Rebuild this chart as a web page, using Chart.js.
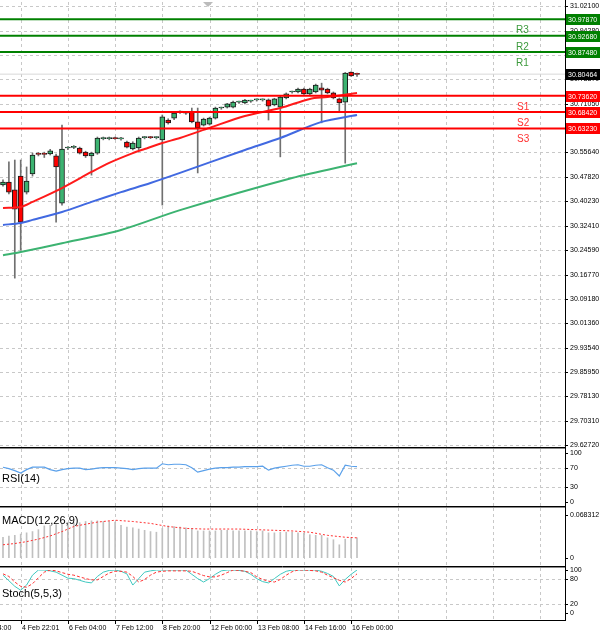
<!DOCTYPE html>
<html><head><meta charset="utf-8">
<script src="https://cdn.jsdelivr.net/npm/chart.js@4"></script>
<style>
body{margin:0;background:#fff;width:600px;height:635px;position:relative;overflow:hidden;font-family:"Liberation Sans",Arial,sans-serif}
canvas{position:absolute;left:0}
</style></head><body>
<canvas id="cMain" style="top:0px" width="600" height="447"></canvas>
<canvas id="cRsi" style="top:447px" width="600" height="59"></canvas>
<canvas id="cMacd" style="top:506px" width="600" height="60"></canvas>
<canvas id="cSto" style="top:566px" width="600" height="69"></canvas>
<script>
// ---- data ----
const opens  =[30.453,30.462,30.437,30.481,30.430,30.488,30.551,30.552,30.551,30.545,30.395,30.570,30.572,30.570,30.557,30.545,30.554,30.600,30.600,30.601,30.599,30.589,30.567,30.570,30.603,30.604,30.603,30.596,30.659,30.665,30.684,30.681,30.684,30.653,30.643,30.646,30.665,30.697,30.700,30.700,30.716,30.713,30.719,30.723,30.723,30.723,30.707,30.700,30.729,30.748,30.748,30.757,30.742,30.748,30.761,30.757,30.745,30.726,30.716,30.811,30.805];
const highs  =[30.469,30.526,30.532,30.532,30.510,30.554,30.556,30.557,30.566,30.551,30.643,30.575,30.578,30.573,30.560,30.557,30.605,30.605,30.605,30.605,30.604,30.592,30.590,30.605,30.607,30.607,30.606,30.675,30.663,30.684,30.688,30.685,30.697,30.697,30.665,30.668,30.700,30.700,30.712,30.719,30.719,30.725,30.722,30.726,30.726,30.726,30.728,30.735,30.745,30.751,30.760,30.760,30.760,30.773,30.776,30.760,30.748,30.729,30.810,30.812,30.808];
const lows   =[30.449,30.424,30.157,30.246,30.424,30.481,30.545,30.540,30.548,30.335,30.389,30.565,30.568,30.551,30.540,30.484,30.550,30.596,30.596,30.597,30.595,30.570,30.564,30.565,30.599,30.600,30.599,30.389,30.646,30.660,30.680,30.677,30.650,30.491,30.640,30.643,30.662,30.693,30.697,30.697,30.712,30.710,30.715,30.719,30.719,30.659,30.704,30.542,30.726,30.744,30.745,30.740,30.739,30.745,30.650,30.742,30.726,30.684,30.522,30.797,30.797];
const closes =[30.462,30.430,30.376,30.335,30.465,30.548,30.550,30.550,30.561,30.510,30.567,30.571,30.574,30.554,30.545,30.554,30.602,30.600,30.601,30.600,30.600,30.573,30.586,30.602,30.604,30.603,30.605,30.669,30.650,30.681,30.684,30.682,30.653,30.634,30.662,30.665,30.697,30.698,30.710,30.716,30.717,30.722,30.720,30.723,30.724,30.703,30.726,30.732,30.742,30.749,30.757,30.742,30.757,30.770,30.754,30.745,30.729,30.713,30.808,30.799,30.804];
const maIdx  =[0,3,5,10,15,18,22,24,27,30,35,41,47,52,55,60];
const maRed  =[30.380,30.383,30.399,30.443,30.494,30.523,30.554,30.567,30.586,30.602,30.634,30.672,30.697,30.726,30.732,30.745];
const blueIdx=[0,3,5,10,15,20,25,30,41,47,54,60];
const maBlue =[30.326,30.332,30.342,30.367,30.399,30.430,30.459,30.491,30.564,30.602,30.653,30.675];
const greenIdx=[0,3,10,20,30,49,60];
const maGreen=[30.230,30.240,30.268,30.310,30.373,30.475,30.522];
const levelNames=["R3","R2","R1","S1","S2","S3"];
const levelValues=[30.9787,30.9268,30.8748,30.7362,30.6842,30.6323];
const currentPrice=30.80464;
const priceTicks=[31.02100,30.94280,30.86650,30.78870,30.71050,30.63230,30.55640,30.47820,30.40230,30.32410,30.24590,30.16770,30.09180,30.01360,29.93540,29.85950,29.78130,29.70310,29.62720];
const rsi=[71,68,64,59,66,71,71,71,66,63,66,68,69,69,66,67,69,70,70,70,69,68,66,68,69,69,69,78,76,77,77,76,70,61,64,67,69,70,70,71,71,72,72,72,73,65,69,71,73,75,76,73,73,75,76,70,65,53,75,73,72];
const macdHist=[.033,.035,.036,.038,.040,.042,.045,.051,.052,.053,.055,.056,.056,.056,.058,.059,.059,.058,.058,.057,.052,.049,.048,.046,.044,.042,.041,.047,.051,.050,.049,.048,.047,.043,.043,.043,.043,.044,.044,.043,.043,.043,.043,.042,.043,.040,.040,.041,.041,.041,.040,.039,.037,.036,.036,.032,.029,.021,.030,.032,.032];
const macdSigIdx=[0,2,4,6,8,10,12,13,16,19,22,25,28,31,34,37,40,43,46,49,52,55,58,60];
const macdSig=[.021,.023,.026,.030,.035,.042,.050,.052,.057,.060,.058,.055,.050,.047,.046,.046,.046,.045,.044,.043,.041,.036,.033,.032];
const stochK=[88,75,62,53,65,88,100,100,98,95,88,81,80,76,72,70,85,95,99,100,97,91,65,80,95,98,100,100,100,100,100,100,90,80,72,80,90,98,100,100,99,97,90,80,73,70,80,90,97,100,100,100,100,100,97,92,85,63,78,90,100];
const stochD=[91,85,72,62,60,68,82,95,100,98,94,90,88,84,80,77,77,85,93,97,97,95,85,72,78,88,95,97,98,98,98,98,97,92,87,84,84,88,94,100,99,97,94,84,78,74,72,78,88,96,100,100,99,98,95,88,82,76,72,80,91];
const timeLabels=["3 Feb 14:00","4 Feb 22:01","6 Feb 04:00","7 Feb 12:00","8 Feb 20:00","12 Feb 00:00","13 Feb 08:00","14 Feb 16:00","16 Feb 00:00"];
const timeLabelIdx=[-5,3,11,19,27,35,43,51,59];

// ---- common ----
const XMIN=-0.508, XMAX=95.25, AXW=35;
const gridIdx=[]; for(let k=-1;k<12;k++) gridIdx.push(3+8*k);
const FONT='"Liberation Sans", Arial, sans-serif';
const GREEN='#008000', RED='#ff0000';
Chart.defaults.animation=false;
Chart.defaults.plugins.legend.display=false;
Chart.defaults.plugins.tooltip.enabled=false;
Chart.defaults.devicePixelRatio=1;
Chart.defaults.responsive=false;
const AX={};
function xScale(){return {type:'linear',min:XMIN,max:XMAX,offset:false,display:false};}
function yScale(min,max){return {type:'linear',position:'right',min,max,
  afterFit:s=>{s.width=AXW;},border:{display:false},grid:{display:false},ticks:{display:false}};}
const axisPlugin={id:'axisPlugin',
  beforeDatasetsDraw(ch){const c=ch.ctx,a=ch.chartArea,x=ch.scales.x,y=ch.scales.y,L=AX[ch.canvas.id];c.save();
    c.strokeStyle='#c8c8c8';c.lineWidth=1;c.setLineDash([3,3]);
    const gb=L.gridBottom!==undefined?L.gridBottom:ch.height;
    gridIdx.forEach(i=>{const px=Math.round(x.getPixelForValue(i))+0.5;if(px<a.left||px>a.right)return;c.beginPath();c.moveTo(px,2);c.lineTo(px,gb);c.stroke();});
    L.gridVals.forEach(v=>{const py=Math.round(y.getPixelForValue(v))+0.5;c.beginPath();c.moveTo(a.left,py);c.lineTo(a.right,py);c.stroke();});
    c.restore();},
  afterDraw(ch){const c=ch.ctx,a=ch.chartArea,y=ch.scales.y,L=AX[ch.canvas.id];c.save();
    c.fillStyle='#fff';c.fillRect(a.right+1,0,ch.width-a.right,ch.height);
    const ab=L.gridBottom!==undefined?L.gridBottom+1:ch.height;
    c.strokeStyle='#000';c.lineWidth=1;c.beginPath();c.moveTo(a.right+0.5,0);c.lineTo(a.right+0.5,ab);c.stroke();
    c.fillStyle='#000';c.font='7px '+FONT;c.textAlign='left';c.textBaseline='middle';
    L.ticks.forEach(v=>{const py=Math.round(y.getPixelForValue(v))+0.5;c.beginPath();c.moveTo(a.right,py);c.lineTo(a.right+3,py);c.stroke();
      c.fillText(L.fmt(v),a.right+5,py);});
    c.restore();
    if(L.after)L.after(ch);}};
function pts(idx,vals){return idx.map((i,k)=>({x:i,y:vals[k]}));}
function series(vals){return vals.map((v,i)=>({x:i,y:v}));}

// ---- main chart ----
function mainAfter(ch){
  const c=ch.ctx,y=ch.scales.y,a=ch.chartArea; c.save();
  c.fillStyle='#bbb';c.beginPath();c.moveTo(203,2);c.lineTo(213,2);c.lineTo(208,7);c.fill();
  c.textAlign='left';c.textBaseline='alphabetic';
  levelNames.forEach((n,k)=>{const py=Math.round(y.getPixelForValue(levelValues[k]));
    const isR=n[0]==='R';
    c.font='10px '+FONT;
    c.fillStyle=isR?'#3c9a3c':'#ff3030';
    c.fillText(n,isR?516:517,py+14);
    c.fillStyle=isR?GREEN:RED;c.fillRect(a.right+1,py-5,34,11);
    c.fillStyle='#fff';c.font='7px '+FONT;c.fillText(levelValues[k].toFixed(5),a.right+3,py+3);});
  const pc=Math.round(y.getPixelForValue(currentPrice));
  c.fillStyle='#000';c.fillRect(a.right+1,pc-5,34,11);
  c.fillStyle='#fff';c.font='7px '+FONT;c.fillText(currentPrice.toFixed(5),a.right+3,pc+3);
  c.restore();}
AX.cMain={ticks:priceTicks,fmt:v=>v.toFixed(5),gridVals:priceTicks,after:mainAfter};
const levelDs=levelValues.map((v,k)=>({type:'line',data:[{x:XMIN,y:v},{x:XMAX,y:v}],borderColor:k<3?GREEN:RED,borderWidth:2,pointRadius:0,order:0}));
new Chart(document.getElementById('cMain'),{
  data:{datasets:[
    {type:'line',data:[{x:XMIN,y:currentPrice},{x:XMAX,y:currentPrice}],borderColor:'#d8d8d8',borderWidth:1,pointRadius:0,order:9},
    ...levelDs,
    {type:'line',data:pts(greenIdx,maGreen),borderColor:'#3cb371',borderWidth:2,pointRadius:0,tension:0.3,order:3},
    {type:'line',data:pts(blueIdx,maBlue),borderColor:'#4169e1',borderWidth:2,pointRadius:0,tension:0.3,order:3},
    {type:'line',data:pts(maIdx,maRed),borderColor:'#ff1a1a',borderWidth:2,pointRadius:0,tension:0.3,order:2},
    {type:'bar',data:lows.map((l,i)=>({x:i,y:[l,highs[i]]})),backgroundColor:'#707070',barThickness:1,grouped:false,order:5},
    {type:'bar',data:opens.map((o,i)=>({x:i,y:[o,closes[i]]})),backgroundColor:opens.map((o,i)=>closes[i]>=o?'#3cb371':'#ff0000'),borderColor:'#1a1a1a',borderWidth:1,borderSkipped:false,barThickness:5,minBarLength:1,grouped:false,order:4}
  ]},
  options:{layout:{padding:0},scales:{x:xScale(),y:yScale(29.6209,31.040)}},
  plugins:[axisPlugin]});

// ---- panels ----
function panelAfter(text,yy,extra){return ch=>{const c=ch.ctx;c.save();c.fillStyle='#000';c.font='11px '+FONT;c.textAlign='left';c.textBaseline='alphabetic';c.fillText(text,2,yy);
  c.lineWidth=1;c.strokeStyle='#000';c.beginPath();c.moveTo(0,0.5);c.lineTo(ch.chartArea.right,0.5);c.stroke();
  c.strokeStyle='#888';c.beginPath();c.moveTo(0,1.5);c.lineTo(ch.chartArea.right,1.5);c.stroke();c.restore();if(extra)extra(ch);};}
AX.cRsi={ticks:[100,70,30,0],fmt:v=>String(v),gridVals:[70,30],after:panelAfter('RSI(14)',35)};
new Chart(document.getElementById('cRsi'),{
  data:{datasets:[{type:'line',data:series(rsi),borderColor:'#5aa0ea',borderWidth:1.2,pointRadius:0}]},
  options:{layout:{padding:{top:6,bottom:4}},scales:{x:xScale(),y:yScale(0,100)}},
  plugins:[axisPlugin]});

AX.cMacd={ticks:[0.068312,0],fmt:v=>v===0?'0':v.toFixed(6),gridVals:[],after:panelAfter('MACD(12,26,9)',18)};
new Chart(document.getElementById('cMacd'),{
  data:{datasets:[
    {type:'line',data:pts(macdSigIdx,macdSig),borderColor:'#ff3030',borderWidth:1,borderDash:[2,2],pointRadius:0,order:0},
    {type:'bar',data:series(macdHist),backgroundColor:'#c0c0c0',barThickness:1,order:1}]},
  options:{layout:{padding:{top:9,bottom:8}},scales:{x:xScale(),y:yScale(0,0.068312)}},
  plugins:[axisPlugin]});

function stoExtra(ch){const c=ch.ctx,a=ch.chartArea,x=ch.scales.x;c.save();
  const by=ch.height-15;
  c.strokeStyle='#000';c.lineWidth=1;c.beginPath();c.moveTo(0,by+0.5);c.lineTo(a.right+1,by+0.5);c.stroke();
  c.fillStyle='#000';c.font='7px '+FONT;c.textBaseline='top';c.textAlign='left';
  timeLabels.forEach((t,k)=>{const px=Math.round(x.getPixelForValue(timeLabelIdx[k]));
    c.beginPath();c.moveTo(px+0.5,by);c.lineTo(px+0.5,by+4);c.stroke();
    c.fillText(t,px+1,by+5);});
  c.restore();}
AX.cSto={ticks:[100,80,20,0],fmt:v=>String(v),gridVals:[80,20],gridBottom:54,after:panelAfter('Stoch(5,5,3)',31,stoExtra)};
new Chart(document.getElementById('cSto'),{
  data:{datasets:[
    {type:'line',data:series(stochD),borderColor:'#ff3030',borderWidth:1,borderDash:[3,2],pointRadius:0},
    {type:'line',data:series(stochK),borderColor:'#40c8c0',borderWidth:1,pointRadius:0}]},
  options:{layout:{padding:{top:4,bottom:22}},scales:{x:xScale(),y:yScale(0,100)}},
  plugins:[axisPlugin]});
</script></body></html>
